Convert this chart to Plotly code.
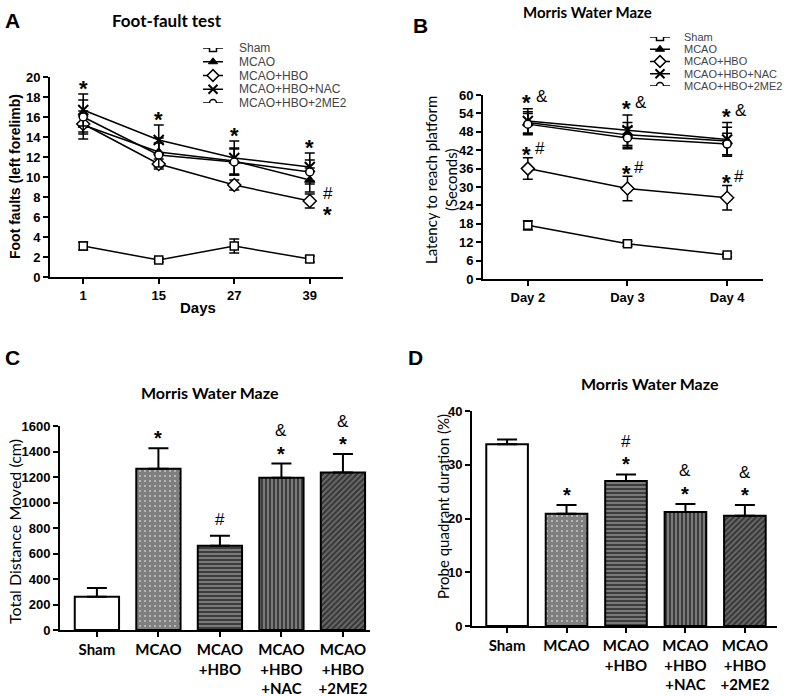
import plotly.graph_objects as go

W, H = 800, 696

# ---------------- data ----------------
groups = ["Sham", "MCAO", "MCAO+HBO", "MCAO+HBO+NAC", "MCAO+HBO+2ME2"]

# Panel A: foot-fault test
days_A = ["1", "15", "27", "39"]
sham_A = [3.1, 1.7, 3.1, 1.8]
sham_A_err = [0.4, 0.2, 0.7, 0.3]
mcao_A = [15.2, 12.5, 11.6, 9.7]
mcao_A_err = [1.4, 1.4, 1.3, 1.2]
hbo_A = [15.3, 11.3, 9.2, 7.6]
hbo_A_err = [0.8, 0.5, 0.5, 0.7]
nac_A = [16.7, 13.7, 11.9, 11.0]
nac_A_err = [1.6, 1.5, 1.7, 1.4]
me2_A = [16.0, 12.2, 11.5, 10.5]
me2_A_err = [1.7, 1.2, 1.3, 1.2]

# Panel B: Morris water maze latency
days_B = ["Day 2", "Day 3", "Day 4"]
sham_B = [17.5, 11.5, 7.8]
sham_B_err = [1.5, 0.8, 0.6]
mcao_B = [51.0, 47.0, 45.0]
mcao_B_err = [3.5, 4.0, 4.5]
hbo_B = [36.0, 29.5, 26.5]
hbo_B_err = [3.5, 4.0, 4.0]
nac_B = [51.5, 48.5, 45.5]
nac_B_err = [4.0, 5.0, 5.5]
me2_B = [50.5, 46.0, 44.0]
me2_B_err = [3.5, 3.5, 3.5]

# Panel C: total distance moved
bar_labels = ["Sham", "MCAO", "MCAO<br>+HBO", "MCAO<br>+HBO<br>+NAC", "MCAO<br>+HBO<br>+2ME2"]
dist_C = [260, 1265, 660, 1195, 1235]
dist_C_err = [70, 160, 80, 110, 145]
sig_C = [[], ["*"], ["#"], ["*", "&"], ["*", "&"]]

# Panel D: probe quadrant duration
probe_D = [33.8, 20.9, 27.0, 21.2, 20.5]
probe_D_err = [0.9, 1.6, 1.2, 1.5, 2.0]
sig_D = [[], ["*"], ["*", "#"], ["*", "&"], ["*", "&"]]

sig_A_top = ["*", "*", "*", "*"]
sig_B_top = ["* &", "* &", "* &"]
sig_B_hbo = ["*#", "*#", "*#"]

# ---------------- styles ----------------
ARIAL = "Liberation Sans"
CAL = "Lato"
series_A = [sham_A, mcao_A, hbo_A, nac_A, me2_A]
series_A_err = [sham_A_err, mcao_A_err, hbo_A_err, nac_A_err, me2_A_err]
series_B = [sham_B, mcao_B, hbo_B, nac_B, me2_B]
series_B_err = [sham_B_err, mcao_B_err, hbo_B_err, nac_B_err, me2_B_err]

sym = [
    dict(symbol="square", color="white", size=8, line=dict(color="black", width=1.5)),
    dict(symbol="triangle-up", color="black", size=9, line=dict(color="black", width=1)),
    dict(symbol="diamond", color="white", size=10, line=dict(color="black", width=1.5)),
    dict(symbol="x-thin", color="black", size=10, line=dict(color="black", width=2)),
    dict(symbol="circle", color="white", size=8, line=dict(color="black", width=1.5)),
]
patterns = [
    dict(shape="", fgcolor="black", bgcolor="white"),
    dict(shape=".", fgcolor="black", bgcolor="white", size=5, solidity=0.85),
    dict(shape="-", fgcolor="black", bgcolor="#7a7a7a", size=4, solidity=0.5),
    dict(shape="|", fgcolor="black", bgcolor="#7a7a7a", size=4, solidity=0.5),
    dict(shape="/", fgcolor="black", bgcolor="#6a6a6a", size=4, solidity=0.5),
]

def px_x(p):
    return p / W

def px_y(p):
    return 1 - p / H

fig = go.Figure()

# Panel A lines
for i, (vals, errs) in enumerate(zip(series_A, series_A_err)):
    fig.add_trace(go.Scatter(
        x=list(range(len(days_A))), y=vals, mode="lines+markers",
        line=dict(color="black", width=1.5), marker=sym[i],
        error_y=dict(type="data", array=errs, color="black", thickness=1.5, width=5),
        xaxis="x", yaxis="y", showlegend=False, name=groups[i]))

# Panel B lines
for i, (vals, errs) in enumerate(zip(series_B, series_B_err)):
    fig.add_trace(go.Scatter(
        x=list(range(len(days_B))), y=vals, mode="lines+markers",
        line=dict(color="black", width=1.5), marker=sym[i],
        error_y=dict(type="data", array=errs, color="black", thickness=1.5, width=5),
        xaxis="x2", yaxis="y2", showlegend=False, name=groups[i]))

# Panel C bars
for i in range(len(groups)):
    fig.add_trace(go.Bar(
        x=[i], y=[dist_C[i]], width=0.72,
        marker=dict(color="white", line=dict(color="black", width=2), pattern=patterns[i]),
        error_y=dict(type="data", array=[dist_C_err[i]], arrayminus=[0], color="black", thickness=2, width=10),
        xaxis="x3", yaxis="y3", showlegend=False, name=groups[i]))

# Panel D bars
for i in range(len(groups)):
    fig.add_trace(go.Bar(
        x=[i], y=[probe_D[i]], width=0.7,
        marker=dict(color="white", line=dict(color="black", width=2), pattern=patterns[i]),
        error_y=dict(type="data", array=[probe_D_err[i]], arrayminus=[0], color="black", thickness=2, width=10),
        xaxis="x4", yaxis="y4", showlegend=False, name=groups[i]))

# Manual legends (A on x5/y5, B on x6/y6): a line sample plus a centred marker
for ax in (("x5", "y5"), ("x6", "y6")):
    for i in range(len(groups)):
        fig.add_trace(go.Scatter(
            x=[0, 1], y=[i, i], mode="lines", line=dict(color="black", width=1.5),
            xaxis=ax[0], yaxis=ax[1], showlegend=False, hoverinfo="skip"))
        fig.add_trace(go.Scatter(
            x=[0.5], y=[i], mode="markers", marker=dict(sym[i], size=sym[i]["size"] - 1),
            xaxis=ax[0], yaxis=ax[1], showlegend=False, hoverinfo="skip"))

axis_common = dict(showline=True, linecolor="black", linewidth=2, ticks="outside",
                   ticklen=5, tickwidth=2, tickcolor="black", showgrid=False,
                   zeroline=False, fixedrange=True, automargin=False)
hidden = dict(visible=False, fixedrange=True, automargin=False)

fig.update_layout(
    width=W, height=H, margin=dict(l=0, r=0, t=0, b=0, autoexpand=False),
    paper_bgcolor="white", plot_bgcolor="rgba(0,0,0,0)", barmode="overlay",
    xaxis=dict(axis_common, domain=[px_x(50), px_x(343)], range=[-0.44, 3.44],
               tickvals=list(range(len(days_A))), ticktext=days_A,
               tickfont=dict(family=ARIAL, size=13, color="black", weight="bold"), anchor="y"),
    yaxis=dict(axis_common, domain=[px_y(277), px_y(77)], range=[0, 20], dtick=2,
               tickfont=dict(family=ARIAL, size=13, color="black", weight="bold"), anchor="x"),
    xaxis2=dict(axis_common, domain=[px_x(483), px_x(763)], range=[-0.45, 2.36],
                tickvals=list(range(len(days_B))), ticktext=days_B,
                tickfont=dict(family=ARIAL, size=13, color="black", weight="bold"), anchor="y2"),
    yaxis2=dict(axis_common, domain=[px_y(279), px_y(95)], range=[0, 60], dtick=6,
                tickfont=dict(family=ARIAL, size=13, color="black", weight="bold"), anchor="x2"),
    xaxis3=dict(axis_common, domain=[px_x(60), px_x(370)], range=[-0.6, 4.44],
                tickvals=list(range(len(groups))), ticktext=bar_labels,
                tickfont=dict(family=CAL, size=15, color="black", weight="bold"), anchor="y3"),
    yaxis3=dict(axis_common, domain=[px_y(630), px_y(426)], range=[0, 1600], dtick=200,
                tickfont=dict(family=ARIAL, size=13, color="black", weight="bold"), anchor="x3"),
    xaxis4=dict(axis_common, domain=[px_x(472), px_x(777)], range=[-0.59, 4.54],
                tickvals=list(range(len(groups))), ticktext=bar_labels,
                tickfont=dict(family=CAL, size=15, color="black", weight="bold"), anchor="y4"),
    yaxis4=dict(axis_common, domain=[px_y(626), px_y(411)], range=[0, 40], dtick=10,
                tickfont=dict(family=ARIAL, size=13, color="black", weight="bold"), anchor="x4"),
    xaxis5=dict(hidden, domain=[px_x(203), px_x(223)], range=[0, 1], anchor="y5"),
    yaxis5=dict(hidden, domain=[px_y(103), px_y(48)], range=[4, 0], anchor="x5"),
    xaxis6=dict(hidden, domain=[px_x(650), px_x(670)], range=[0, 1], anchor="y6"),
    yaxis6=dict(hidden, domain=[px_y(86), px_y(37)], range=[4, 0], anchor="x6"),
)

ann = []
def paper_text(x, y, text, size, family, bold=True, angle=0, color="black", xanchor="center"):
    ann.append(dict(xref="paper", yref="paper", x=px_x(x), y=px_y(y), text=text,
                    showarrow=False, textangle=angle, xanchor=xanchor, yanchor="middle",
                    font=dict(family=family, size=size, color=color,
                              weight="bold" if bold else "normal")))

# panel letters and titles
paper_text(12, 20, "A", 21, ARIAL)
paper_text(420, 25, "B", 21, ARIAL)
paper_text(12, 357, "C", 21, ARIAL)
paper_text(415, 357, "D", 21, ARIAL)
paper_text(167, 20, "Foot-fault test", 17, CAL)
paper_text(587, 12, "Morris Water Maze", 15, CAL)
paper_text(210, 392, "Morris Water Maze", 16, CAL)
paper_text(650, 383, "Morris Water Maze", 16, CAL)
# axis titles
paper_text(15, 177, "Foot faults (left forelimb)", 14, ARIAL, angle=-90)
paper_text(198, 307, "Days", 15, ARIAL)
paper_text(441, 180, "Latency to reach platform<br>(Seconds)", 15, CAL, bold=False, angle=-90)
paper_text(14, 532, "Total Distance Moved (cm)", 16, CAL, bold=False, angle=-90)
paper_text(443, 507, "Probe quadrant duration (%)", 15, CAL, bold=False, angle=-90)

# legend texts
for i, g in enumerate(groups):
    ann.append(dict(xref="paper", yref="y5", x=px_x(237), y=i, text=g, showarrow=False,
                    xanchor="left", yanchor="middle", font=dict(family=ARIAL, size=12, color="#444444")))
    ann.append(dict(xref="paper", yref="y6", x=px_x(682), y=i, text=g, showarrow=False,
                    xanchor="left", yanchor="middle", font=dict(family=ARIAL, size=11, color="#444444")))

STAR_FIX = -6  # asterisk glyph sits high in its line box
STAR = dict(family=ARIAL, size=22, color="black", weight="bold")
SYM = dict(family=ARIAL, size=17, color="black")

# Panel A significance
for j, s in enumerate(sig_A_top):
    top = max(v[j] + e[j] for v, e in zip(series_A, series_A_err))
    ann.append(dict(xref="x", yref="y", x=j, y=top, text=s, showarrow=False,
                    yanchor="middle", yshift=12 + STAR_FIX, font=STAR))
ann.append(dict(xref="x", yref="y", x=len(days_A) - 1, y=hbo_A[-1], text="#", showarrow=False,
                xshift=18, yshift=8, yanchor="middle", font=SYM))
ann.append(dict(xref="x", yref="y", x=len(days_A) - 1, y=hbo_A[-1], text="*", showarrow=False,
                xshift=18, yshift=-7 + STAR_FIX, yanchor="middle", font=STAR))

# Panel B significance
for j in range(len(days_B)):
    top = max(v[j] + e[j] for v, e in zip(series_B, series_B_err))
    ann.append(dict(xref="x2", yref="y2", x=j, y=top, text=sig_B_top[j][0], showarrow=False,
                    yanchor="middle", xshift=-1, yshift=12 + STAR_FIX, font=STAR))
    ann.append(dict(xref="x2", yref="y2", x=j, y=top, text=sig_B_top[j][-1], showarrow=False,
                    yanchor="middle", xshift=14, yshift=12, font=SYM))
    hb = hbo_B[j] + hbo_B_err[j]
    ann.append(dict(xref="x2", yref="y2", x=j, y=hb, text=sig_B_hbo[j][0], showarrow=False,
                    yanchor="middle", xshift=-1, yshift=9 + STAR_FIX, font=STAR))
    ann.append(dict(xref="x2", yref="y2", x=j, y=hb, text=sig_B_hbo[j][-1], showarrow=False,
                    yanchor="middle", xshift=12, yshift=9, font=SYM))

# Panels C and D significance
for xr, yr, vals, errs, sigs in (("x3", "y3", dist_C, dist_C_err, sig_C),
                                 ("x4", "y4", probe_D, probe_D_err, sig_D)):
    for i, labels in enumerate(sigs):
        for k, s in enumerate(labels):
            is_star = s == "*"
            ann.append(dict(xref=xr, yref=yr, x=i, y=vals[i] + errs[i], text=s,
                            showarrow=False, yanchor="middle",
                            yshift=16 + 17 * k + (STAR_FIX if is_star else 0),
                            font=dict(STAR, size=20) if is_star else SYM))

fig.update_layout(annotations=ann)
fig.write_html("out.html", config={"displayModeBar": False},
               post_script="document.body.style.margin='0';document.body.style.overflow='hidden';")
